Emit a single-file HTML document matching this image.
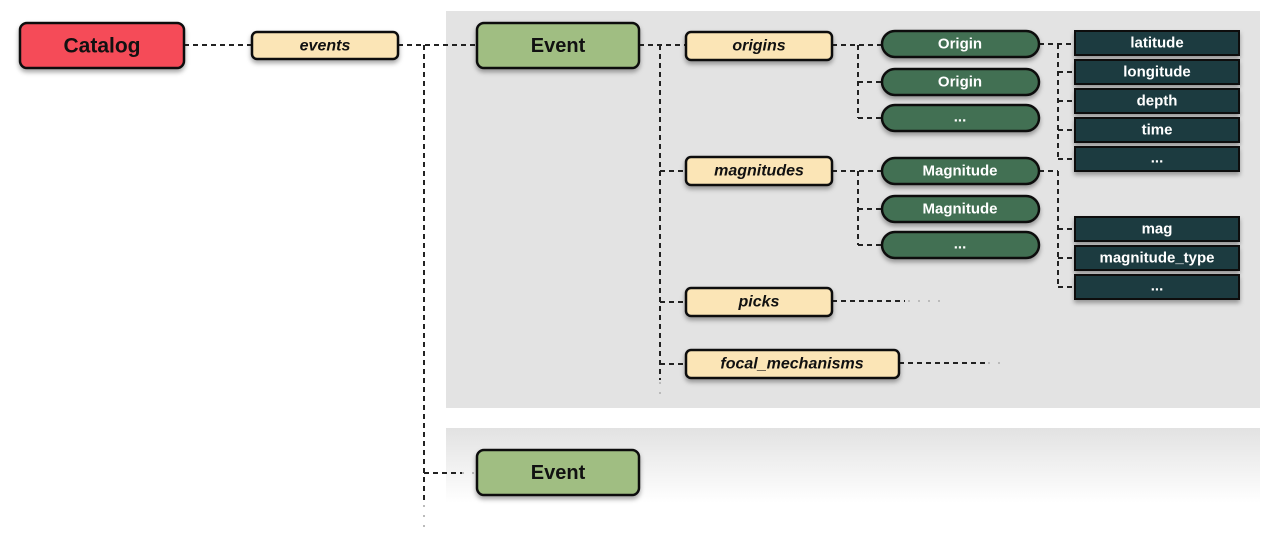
<!DOCTYPE html>
<html><head><meta charset="utf-8"><style>
html,body{margin:0;padding:0;background:#fff;width:1271px;height:556px;overflow:hidden}
svg text{font-family:"Liberation Sans",sans-serif;font-weight:bold;text-anchor:middle;dominant-baseline:central}
</style></head><body>
<svg width="1271" height="556" viewBox="0 0 1271 556" xmlns="http://www.w3.org/2000/svg">
<defs>
<linearGradient id="g2" x1="0" y1="0" x2="0" y2="1">
<stop offset="0" stop-color="#e2e2e2"/><stop offset="1" stop-color="#ffffff"/>
</linearGradient>
<filter id="sh" x="-20%" y="-30%" width="140%" height="180%">
<feDropShadow dx="0" dy="3" stdDeviation="2.5" flood-color="#000" flood-opacity="0.35"/>
</filter>
</defs>
<rect x="446" y="11" width="814" height="397" fill="#e3e3e3"/>
<rect x="446" y="428" width="814" height="75" fill="url(#g2)"/>

<g stroke="#222" stroke-width="2" stroke-dasharray="5,4" fill="none">
<line x1="184" y1="45" x2="252" y2="45"/>
<line x1="398" y1="45" x2="477" y2="45"/>
<line x1="424" y1="45" x2="424" y2="500"/>
<line x1="424" y1="473" x2="462" y2="473"/>
<line x1="639" y1="45" x2="686" y2="45"/>
<line x1="660" y1="45" x2="660" y2="380"/>
<line x1="660" y1="171" x2="686" y2="171"/>
<line x1="660" y1="302" x2="686" y2="302"/>
<line x1="660" y1="364" x2="686" y2="364"/>
<line x1="832" y1="45" x2="882" y2="45"/>
<line x1="858" y1="45" x2="858" y2="118"/>
<line x1="858" y1="82" x2="882" y2="82"/>
<line x1="858" y1="118" x2="882" y2="118"/>
<line x1="832" y1="171" x2="882" y2="171"/>
<line x1="858" y1="171" x2="858" y2="245"/>
<line x1="858" y1="209" x2="882" y2="209"/>
<line x1="858" y1="245" x2="882" y2="245"/>
<line x1="832" y1="301" x2="905" y2="301"/>
<line x1="899" y1="363" x2="985" y2="363"/>
<line x1="1039" y1="44" x2="1075" y2="44"/>
<line x1="1058" y1="44" x2="1058" y2="160"/>
<line x1="1058" y1="72" x2="1075" y2="72"/>
<line x1="1058" y1="101" x2="1075" y2="101"/>
<line x1="1058" y1="130" x2="1075" y2="130"/>
<line x1="1058" y1="159" x2="1075" y2="159"/>
<line x1="1039" y1="171" x2="1058" y2="171"/>
<line x1="1058" y1="171" x2="1058" y2="288"/>
<line x1="1058" y1="229" x2="1075" y2="229"/>
<line x1="1058" y1="258" x2="1075" y2="258"/>
<line x1="1058" y1="287" x2="1075" y2="287"/>
</g>
<g stroke="#bbb" stroke-width="2" stroke-dasharray="2,8" fill="none">
<line x1="908" y1="301" x2="940" y2="301"/>
<line x1="988" y1="363" x2="1005" y2="363"/>
<line x1="462" y1="473" x2="477" y2="473"/>
<line x1="660" y1="382" x2="660" y2="396"/>
<line x1="424" y1="505" x2="424" y2="535"/>
</g>

<g filter="url(#sh)" stroke="#111" stroke-width="2.5">
<rect x="20" y="23" width="164" height="45" rx="7" fill="#f54c58"/>
<rect x="252" y="32" width="146" height="27" rx="5" fill="#fbe5b6"/>
<rect x="477" y="23" width="162" height="45" rx="7" fill="#a0be82"/>
<rect x="477" y="450" width="162" height="45" rx="7" fill="#a0be82"/>
<rect x="686" y="32" width="146" height="28" rx="5" fill="#fbe5b6"/>
<rect x="686" y="157" width="146" height="28" rx="5" fill="#fbe5b6"/>
<rect x="686" y="288" width="146" height="28" rx="5" fill="#fbe5b6"/>
<rect x="686" y="350" width="213" height="28" rx="5" fill="#fbe5b6"/>
<rect x="882" y="31" width="157" height="26" rx="13" fill="#437052"/>
<rect x="882" y="69" width="157" height="26" rx="13" fill="#437052"/>
<rect x="882" y="105" width="157" height="26" rx="13" fill="#437052"/>
<rect x="882" y="158" width="157" height="26" rx="13" fill="#437052"/>
<rect x="882" y="196" width="157" height="26" rx="13" fill="#437052"/>
<rect x="882" y="232" width="157" height="26" rx="13" fill="#437052"/>
<g fill="#1c3b40" stroke-width="2">
<rect x="1075" y="31" width="164" height="24"/>
<rect x="1075" y="60" width="164" height="24"/>
<rect x="1075" y="89" width="164" height="24"/>
<rect x="1075" y="118" width="164" height="24"/>
<rect x="1075" y="147" width="164" height="24"/>
<rect x="1075" y="217" width="164" height="24"/>
<rect x="1075" y="246" width="164" height="24"/>
<rect x="1075" y="275" width="164" height="24"/>
</g>
</g>

<g fill="#111">
<text x="102" y="46" font-size="21">Catalog</text>
<text x="558" y="46" font-size="20">Event</text>
<text x="558" y="473" font-size="20">Event</text>
<g font-style="italic" font-size="16">
<text x="325" y="46">events</text>
<text x="759" y="46">origins</text>
<text x="759" y="171">magnitudes</text>
<text x="759" y="302">picks</text>
<text x="792" y="364">focal_mechanisms</text>
</g>
</g>
<g fill="#fff" font-size="15">
<text x="960" y="44">Origin</text>
<text x="960" y="82">Origin</text>
<text x="960" y="117">...</text>
<text x="960" y="171">Magnitude</text>
<text x="960" y="209">Magnitude</text>
<text x="960" y="244">...</text>
<text x="1157" y="43">latitude</text>
<text x="1157" y="72">longitude</text>
<text x="1157" y="101">depth</text>
<text x="1157" y="130">time</text>
<text x="1157" y="158">...</text>
<text x="1157" y="229">mag</text>
<text x="1157" y="258">magnitude_type</text>
<text x="1157" y="286">...</text>
</g>
</svg>
</body></html>
